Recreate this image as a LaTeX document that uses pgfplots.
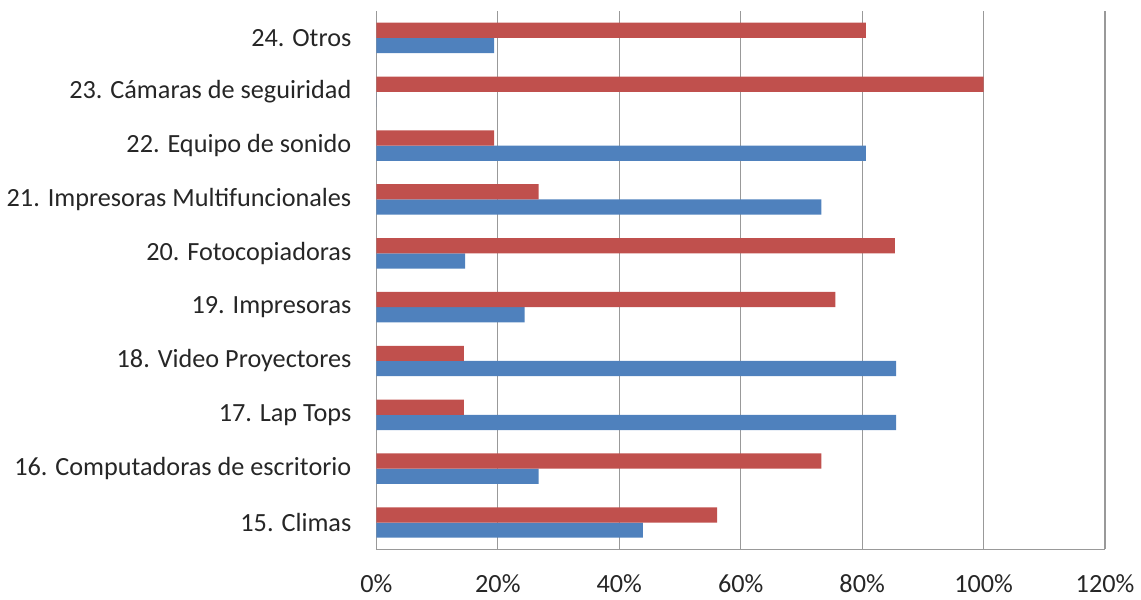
\documentclass[border=0pt]{standalone}
\usepackage{pgfplots}
\pgfplotsset{compat=1.18}
\usepackage{fontspec}
\setmainfont{Carlito}
\definecolor{cred}{HTML}{C0504D}
\definecolor{cblue}{HTML}{4F81BD}
\begin{document}
\begin{tikzpicture}
\begin{axis}[
  name=ax,
  scale only axis,
  width=364pt, height=269pt,
  xbar=0pt, bar width=7.6pt,
  xmin=0, xmax=120, ymin=-0.5, ymax=9.5,
  xtick={0,20,40,60,80,100,120},
  xticklabels={0\%,20\%,40\%,60\%,80\%,100\%,120\%},
  ytick={0,1,2,3,4,5,6,7,8,9},
  yticklabels={15. Climas,16. Computadoras de escritorio,17. Lap Tops,18. Video Proyectores,19. Impresoras,20. Fotocopiadoras,21. Impresoras Multifuncionales,22. Equipo de sonido,23. Cámaras de seguiridad,24. Otros},
  axis x line*=bottom, axis y line*=left,
  axis line style={draw=gray!80, -},
  xmajorgrids, grid style={gray!80, line width=0.6pt},
  major tick length=0pt,
  tick label style={font=\fontsize{13.1}{16}\selectfont, text=black!85},
  xticklabel style={yshift=-9pt},
  yticklabel style={xshift=-9pt},
  /pgf/number format/assume math mode=true,
  clip=false,
]
\addplot[fill=cblue, draw=none] coordinates {(43.9,0) (26.7,1) (85.6,2) (85.6,3) (24.4,4) (14.6,5) (73.3,6) (80.6,7) (0,8) (19.4,9)};
\addplot[fill=cred, draw=none] coordinates {(56.1,0) (73.3,1) (14.4,2) (14.4,3) (75.6,4) (85.4,5) (26.7,6) (19.4,7) (100,8) (80.6,9)};
\end{axis}
\path ([yshift=5.5pt]ax.north) -- ([yshift=-1pt]ax.south);
\end{tikzpicture}
\end{document}
